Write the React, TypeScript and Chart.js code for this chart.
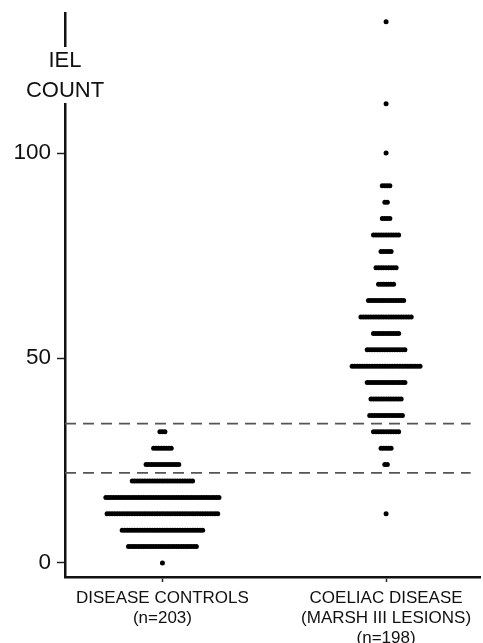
import { useEffect, useRef } from 'react';
import { Chart, registerables } from 'chart.js';

Chart.register(...registerables);

const categoryLabels: string[][] = [
  ['DISEASE CONTROLS', '(n=203)'],
  ['COELIAC DISEASE', '(MARSH III LESIONS)', '(n=198)'],
];
const categoryPositions = [1, 2];

const controlsBins = [0, 4, 8, 12, 16, 20, 24, 28, 32];
const controlsCounts = [1, 28, 33, 45, 46, 25, 14, 8, 3];

const coeliacBins = [12, 24, 28, 32, 36, 40, 44, 48, 52, 56, 60, 64, 68, 72, 76, 80, 84, 88, 92, 100, 112, 132];
const coeliacCounts = [1, 2, 5, 11, 14, 13, 16, 28, 16, 11, 21, 15, 7, 9, 5, 11, 4, 2, 4, 1, 1, 1];

const thresholds = [34, 22];
const thresholdEndX = 2.378;
const yTicks = [0, 50, 100];
const yTitleLines = ['IEL', 'COUNT'];

const X_MIN = 0.5644;
const X_MAX = 2.4222;
const Y_MIN = -3.415;
const Y_MAX = 134.15;
const DOT_STEP = 0.01124;

function swarm(center: number, bins: number[], counts: number[]) {
  const pts: { x: number; y: number }[] = [];
  bins.forEach((v, bi) => {
    const n = counts[bi];
    for (let i = 0; i < n; i++) {
      pts.push({ x: center + (i - (n - 1) / 2) * DOT_STEP, y: v });
    }
  });
  return pts;
}

const FONT = "'Liberation Sans', Arial, sans-serif";

export default function App() {
  const ref = useRef<HTMLCanvasElement | null>(null);

  useEffect(() => {
    if (!ref.current) return;

    const yTitlePlugin = {
      id: 'yTitle',
      afterDraw(chart: any) {
        const { ctx, chartArea } = chart;
        const x = chartArea.left;
        const top = chartArea.top;
        ctx.save();
        ctx.fillStyle = '#ffffff';
        ctx.fillRect(x - 4, top + 34, 8, 56);
        ctx.fillStyle = '#111111';
        ctx.font = `22px ${FONT}`;
        ctx.textAlign = 'center';
        ctx.textBaseline = 'middle';
        ctx.fillText(yTitleLines[0], x, top + 48);
        ctx.fillText(yTitleLines[1], x, top + 78);
        ctx.restore();
      },
    };

    const thresholdSets = thresholds.map((t) => ({
      type: 'line' as const,
      data: [
        { x: X_MIN, y: t },
        { x: thresholdEndX, y: t },
      ],
      borderColor: '#555555',
      borderWidth: 1.8,
      borderDash: [11, 7],
      pointRadius: 0,
      fill: false,
      order: 2,
    }));

    const dotSet = (data: { x: number; y: number }[]) => ({
      type: 'scatter' as const,
      data,
      backgroundColor: '#000000',
      borderWidth: 0,
      pointRadius: 2.5,
      pointHoverRadius: 2.5,
      order: 1,
    });

    const chart = new Chart(ref.current, {
      type: 'scatter',
      data: {
        datasets: [
          ...thresholdSets,
          dotSet(swarm(categoryPositions[0], controlsBins, controlsCounts)),
          dotSet(swarm(categoryPositions[1], coeliacBins, coeliacCounts)),
        ] as any,
      },
      options: {
        animation: false,
        responsive: false,
        layout: { padding: { top: 13, right: 0, left: 0, bottom: 0 } },
        plugins: {
          legend: { display: false },
          tooltip: { enabled: false },
        },
        scales: {
          x: {
            type: 'linear',
            min: X_MIN,
            max: X_MAX,
            afterBuildTicks: (scale: any) => {
              scale.ticks = categoryPositions.map((v) => ({ value: v }));
            },
            afterFit: (scale: any) => {
              scale.height = 66;
              scale.paddingLeft = 0;
              scale.paddingRight = 0;
            },
            grid: {
              drawOnChartArea: false,
              drawTicks: true,
              tickLength: 5,
              tickColor: '#222222',
              tickWidth: 1.5,
            },
            border: { display: true, color: '#111111', width: 2.5 },
            ticks: {
              color: '#111111',
              padding: 6,
              maxRotation: 0,
              autoSkip: false,
              font: { family: FONT, size: 17, lineHeight: 1.18 },
              callback: (value: any) => {
                const idx = categoryPositions.indexOf(Number(value));
                return idx >= 0 ? categoryLabels[idx] : '';
              },
            },
          },
          y: {
            type: 'linear',
            min: Y_MIN,
            max: Y_MAX,
            afterBuildTicks: (scale: any) => {
              scale.ticks = yTicks.map((v) => ({ value: v }));
            },
            afterFit: (scale: any) => {
              scale.width = 65;
              scale.paddingTop = 0;
              scale.paddingBottom = 0;
            },
            grid: {
              drawOnChartArea: false,
              drawTicks: true,
              tickLength: 8,
              tickColor: '#222222',
              tickWidth: 1.5,
            },
            border: { display: true, color: '#111111', width: 2.5 },
            ticks: {
              color: '#111111',
              padding: 6,
              font: { family: FONT, size: 22.5 },
              callback: (value: any) => String(value),
            },
          },
        },
      },
      plugins: [yTitlePlugin],
    });

    return () => chart.destroy();
  }, []);

  return (
    <div style={{ position: 'absolute', left: 0, top: 0, width: 483, height: 643, background: '#fff' }}>
      <canvas ref={ref} width={483} height={643} style={{ display: 'block' }} />
    </div>
  );
}
